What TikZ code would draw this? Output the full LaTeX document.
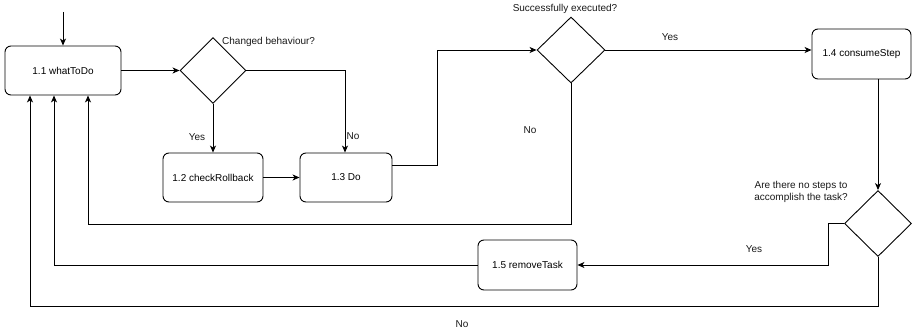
\documentclass[tikz,border=0pt]{standalone}
\usepackage{fontspec}
\setmainfont{Liberation Sans}
\usetikzlibrary{shapes.geometric,arrows.meta}
\tikzset{
  x=1pt,y=-1pt,
  box/.style={draw,rounded corners=6pt,line width=0.9pt,inner sep=0pt,align=center},
  dec/.style={draw,diamond,line width=0.9pt,inner sep=0pt},
  arr/.style={draw,line width=0.9pt,-{Stealth[length=7pt,width=6pt,inset=2pt]}},
  lbl/.style={inner sep=0pt,font=\fontsize{10}{12}\selectfont,text=black!90}
}
\begin{document}
\begin{tikzpicture}[font=\fontsize{10}{12}\selectfont]
\useasboundingbox (0,0) rectangle (913,331);
% nodes
\node[box,minimum width=116pt,minimum height=49pt] (n11) at (63,70.5) {1.1 whatToDo};
\node[box,minimum width=100pt,minimum height=49pt] (n12) at (213,177.5) {1.2 checkRollback};
\node[box,minimum width=92pt,minimum height=49pt] (n13) at (346,177.5) {1.3 Do};
\node[box,minimum width=99pt,minimum height=50pt] (n14) at (861.5,54) {1.4 consumeStep};
\node[box,minimum width=99pt,minimum height=50pt] (n15) at (527.5,265) {1.5 removeTask};
\node[dec,minimum width=66pt,minimum height=66pt] (d1) at (213,70.5) {};
\node[dec,minimum width=68pt,minimum height=66pt] (d2) at (571,50) {};
\node[dec,minimum width=67pt,minimum height=66pt] (d3) at (878,223.5) {};
\coordinate (start) at (63,12);
% labels
\node[lbl,anchor=west] (t1) at (222,42) {Changed behaviour?};
\node[lbl] (t2) at (565,9) {Successfully executed?};
\node[lbl,align=center] (t3) at (801,192) {Are there no steps to\\accomplish the task?};
\node[lbl] (y1) at (197,137) {Yes};
\node[lbl] (no1) at (353,136) {No};
\node[lbl] (y2) at (670,37) {Yes};
\node[lbl] (no2) at (530,130) {No};
\node[lbl] (y3) at (754,249) {Yes};
\node[lbl] (no3) at (462,324) {No};
% connectors
\draw[arr] (start) -- (n11.north);
\draw[arr] (n11.east) -- (d1.west);
\draw[arr] (d1.south) -- (d1.south |- n12.north);
\draw[arr] (d1.east) -| (n13.north -| 345,0);
\draw[arr] (n12.east) -- (n13.west);
\draw[arr] (n13.east |- 0,165) -- (437,165) |- (d2.west);
\draw[arr] (d2.east) -- (n14.west |- d2.east);
\draw[arr] (d2.south) -- (d2.south |- 0,224) -| (n11.south -| 88,0);
\draw[arr] (n14.south -| d3.north) -- (d3.north);
\draw[arr] (d3.west) -- (828,223.5) |- (n15.east);
\draw[arr] (n15.west) -| (n11.south -| 54,0);
\draw[arr] (d3.south) -- (d3.south |- 0,306) -| (n11.south -| 30,0);
\end{tikzpicture}
\end{document}
